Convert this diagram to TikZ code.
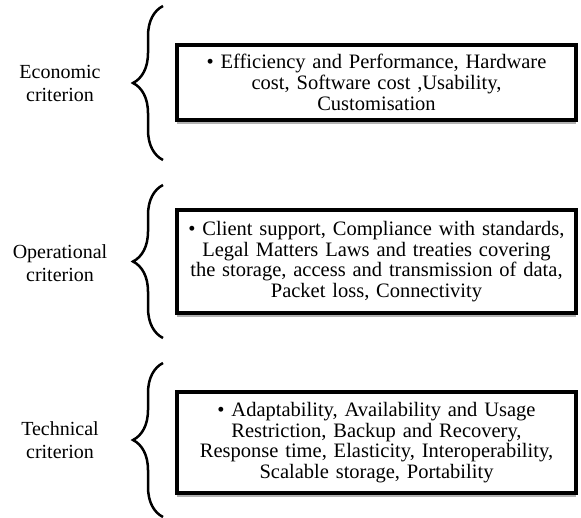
\documentclass[tikz,border=0pt]{standalone}
\usepackage{fontspec}
\setmainfont{Liberation Serif}
\usetikzlibrary{decorations.pathreplacing,shadows}

\tikzset{
  critbox/.style={draw,line width=4pt,fill=white,minimum width=399pt,
    text width=392pt,align=center,inner sep=0pt,
    font=\fontsize{20.5}{20.8}\selectfont,
    drop shadow={shadow xshift=0pt,shadow yshift=-4pt,fill=black!60,opacity=.5}},
  critlabel/.style={align=center,font=\fontsize{20}{23}\selectfont},
  critbrace/.style={decorate,decoration={brace,amplitude=30pt},line width=2.5pt}
}

\begin{document}
\begin{tikzpicture}[x=1pt,y=-1pt]
\useasboundingbox (0,0) rectangle (581,517);

\node[critlabel] (econ) at (60,83) {Economic\\criterion};
\node[critlabel] (oper) at (60,263) {Operational\\criterion};
\node[critlabel] (tech) at (60,440) {Technical\\criterion};

\draw[critbrace] (163,160) -- (163,6);
\draw[critbrace] (163,338) -- (163,185);
\draw[critbrace] (163,517) -- (163,363);

\node[critbox,minimum height=75pt] (econbox) at (376.5,82.5)
  {\textbullet\ Efficiency and Performance, Hardware\\cost, Software cost ,Usability,\\Customisation};
\node[critbox,minimum height=103pt] (operbox) at (376.5,261.5)
  {\textbullet\ Client support, Compliance with standards,\\Legal Matters Laws and treaties covering\\the storage, access and transmission of data,\\Packet loss, Connectivity};
\node[critbox,minimum height=101pt] (techbox) at (376.5,442.5)
  {\textbullet\ Adaptability, Availability and Usage\\Restriction, Backup and Recovery,\\Response time, Elasticity, Interoperability,\\Scalable storage, Portability};

\end{tikzpicture}
\end{document}
